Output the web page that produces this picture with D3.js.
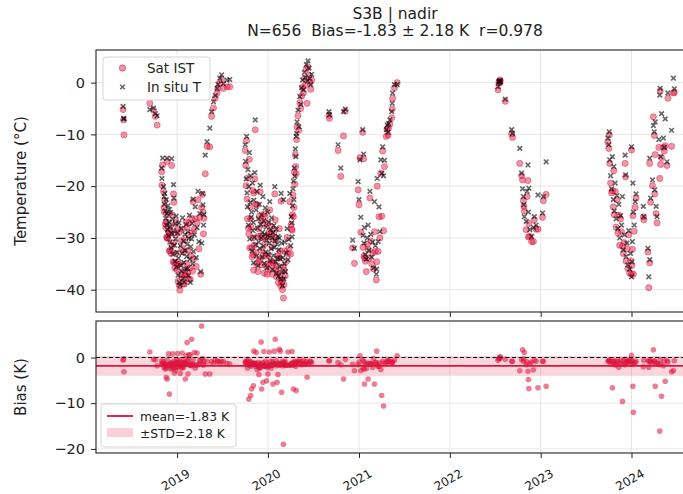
<!DOCTYPE html>
<html><head><meta charset="utf-8">
<script src="https://cdn.jsdelivr.net/npm/d3@7"></script>
<style>body{margin:0;background:#fff}svg{font-family:"DejaVu Sans",sans-serif}</style>
</head><body><svg id="c" width="683" height="494"></svg>
<script>
// ---------- labels / ticks ----------
const titleLines = ["S3B | nadir", "N=656  Bias=-1.83 \u00b1 2.18 K  r=0.978"];
const yearTicks = [2019, 2020, 2021, 2022, 2023, 2024];
const tempTicks = [0, -10, -20, -30, -40];
const biasTicks = [0, -10, -20];
const meanBias = -1.83, stdBias = 2.18;
const legendTop = ["Sat IST", "In situ T"];
const legendBottom = ["mean=-1.83 K", "\u00b1STD=2.18 K"];

// ---------- data: [decimal year, in situ T (°C), satellite IST (°C)] ----------
const spring2018 = [
[2018.405,-4.6,-5.2],[2018.410,-6.9,-7.2],[2018.415,-7.0,-10.1],
[2018.700,-5.2,-4.0],[2018.740,-4.9,-5.3],[2018.760,-6.0,-6.5],[2018.780,-6.4,-8.2]
];
const winter1 = [
[2018.830,-16.5,-17.2],[2018.833,-18.5,-19.8],[2018.840,-14.6,-15.9],[2018.850,-20.1,-21.0],
[2018.855,-22.0,-24.1],[2018.860,-23.5,-25.0],[2018.865,-21.4,-22.8],[2018.870,-24.8,-27.3],
[2018.875,-26.2,-28.0],[2018.880,-22.6,-26.9],[2018.885,-27.5,-29.8],[2018.890,-14.6,-15.2],
[2018.890,-25.3,-30.0],[2018.895,-28.4,-30.1],[2018.900,-23.8,-25.5],[2018.905,-29.6,-28.8],
[2018.910,-26.9,-28.7],[2018.915,-24.5,-32.5],[2018.920,-30.8,-32.4],[2018.925,-27.8,-29.1],
[2018.930,-25.1,-27.6],[2018.935,-31.9,-33.0],[2018.940,-14.7,-16.0],[2018.945,-29.2,-31.5],
[2018.950,-26.4,-25.6],[2018.955,-33.1,-34.6],[2018.960,-19.7,-21.5],[2018.962,-28.6,-30.9],
[2018.965,-22.3,-23.1],[2018.970,-31.4,-34.8],[2018.975,-34.5,-35.8],[2018.980,-27.3,-29.4],
[2018.985,-30.2,-33.0],[2018.990,-25.8,-26.9],[2018.995,-35.6,-36.1],[2019.000,-32.8,-34.9],
[2019.005,-29.0,-28.1],[2019.010,-37.2,-38.4],[2019.015,-33.9,-35.1],[2019.020,-27.1,-29.0],
[2019.025,-38.6,-39.2],[2019.030,-39.1,-40.1],[2019.035,-31.5,-35.0],[2019.040,-35.3,-37.0],
[2019.045,-28.2,-30.5],[2019.050,-36.4,-37.6],[2019.055,-33.0,-32.0],[2019.060,-26.1,-28.3],
[2019.065,-37.8,-38.9],[2019.070,-30.6,-32.7],[2019.075,-34.7,-36.3],[2019.080,-38.5,-38.9],
[2019.085,-29.3,-30.4],[2019.090,-32.4,-37.1],[2019.095,-36.0,-37.2],[2019.100,-27.4,-26.9],
[2019.105,-33.6,-35.0],[2019.110,-31.2,-27.9],[2019.115,-35.9,-36.6],[2019.120,-28.8,-32.4],
[2019.125,-37.3,-37.9],[2019.130,-30.1,-29.5],[2019.135,-25.6,-27.1],[2019.140,-34.1,-35.8],
[2019.145,-38.6,-38.0],[2019.150,-31.7,-33.4],[2019.160,-30.2,-26.2],[2019.165,-27.2,-29.0],
[2019.170,-35.0,-36.4],[2019.175,-22.5,-23.0],[2019.180,-32.6,-34.1],[2019.190,-29.4,-28.3],
[2019.200,-24.0,-26.3],[2019.210,-33.8,-35.5],[2019.220,-28.0,-27.0],[2019.230,-21.0,-22.6],
[2019.240,-30.7,-32.1],[2019.250,-25.3,-26.0],[2019.260,-36.5,-37.0],[2019.270,-31.0,-24.1],
[2019.280,-21.4,-21.6],[2019.285,-23.6,-25.0],[2019.290,-27.5,-29.2],[2019.295,-25.5,-26.2],
[2019.310,-14.0,-17.6],[2019.330,-11.4,-12.3],[2019.360,-8.8,-12.4],[2019.380,-5.6,-6.5],
[2019.400,-3.7,-4.9],[2019.420,-2.5,-3.0],[2019.440,-1.1,-2.0],[2019.450,-0.3,-1.1],
[2019.470,0.85,-0.2],[2019.490,1.5,0.6],[2019.510,-0.2,-1.1],[2019.550,0.5,-0.8],[2019.580,0.6,-0.8]
];
const winter2 = [
[2019.750,-12.0,-13.1],[2019.755,-15.2,-16.0],[2019.760,-18.6,-19.9],[2019.765,-10.4,-11.2],
[2019.770,-21.3,-22.5],[2019.775,-24.0,-26.3],[2019.780,-16.8,-18.4],[2019.785,-27.5,-28.1],
[2019.790,-20.1,-29.2],[2019.795,-13.5,-14.8],[2019.800,-30.2,-31.9],[2019.805,-23.1,-24.0],
[2019.810,-18.0,-26.3],[2019.815,-26.0,-27.9],[2019.820,-25.0,-31.9],[2019.825,-32.5,-33.6],
[2019.830,-19.4,-20.8],[2019.835,-28.6,-30.0],[2019.840,-27.0,-33.2],[2019.842,-34.8,-36.2],
[2019.845,-22.7,-21.3],[2019.850,-29.9,-31.4],[2019.855,-17.4,-18.6],[2019.860,-7.2,-9.1],
[2019.865,-31.3,-32.8],[2019.870,-24.6,-23.5],[2019.875,-33.5,-35.0],[2019.880,-21.0,-23.6],
[2019.885,-28.1,-29.7],[2019.890,-35.4,-36.5],[2019.895,-26.3,-28.2],[2019.900,-30.8,-34.5],
[2019.905,-23.5,-25.8],[2019.910,-32.0,-34.1],[2019.915,-19.8,-21.1],[2019.920,-27.4,-29.6],
[2019.925,-30.0,-26.6],[2019.930,-25.5,-32.4],[2019.935,-33.7,-35.2],[2019.940,-28.9,-30.0],
[2019.945,-22.0,-27.4],[2019.950,-31.6,-33.3],[2019.955,-26.7,-25.4],[2019.960,-34.9,-36.8],
[2019.965,-29.3,-31.2],[2019.970,-24.2,-25.9],[2019.975,-32.7,-33.5],[2019.980,-27.9,-29.8],
[2019.985,-30.4,-35.5],[2019.990,-35.8,-37.0],[2019.995,-25.0,-27.2],[2020.000,-29.6,-33.2],
[2020.005,-33.2,-35.0],[2020.010,-27.0,-28.9],[2020.015,-31.0,-29.8],[2020.020,-23.0,-24.6],
[2020.025,-34.4,-36.1],[2020.030,-28.4,-29.2],[2020.035,-32.1,-34.4],[2020.040,-26.1,-27.8],
[2020.045,-30.0,-31.7],[2020.050,-36.1,-37.0],[2020.055,-29.0,-34.8],[2020.060,-33.4,-34.9],
[2020.065,-27.6,-29.0],[2020.070,-31.8,-30.4],[2020.075,-20.1,-21.5],[2020.080,-30.5,-26.5],
[2020.085,-34.6,-36.0],[2020.090,-28.3,-30.1],[2020.095,-36.8,-37.5],[2020.100,-31.2,-36.6],
[2020.105,-33.9,-35.4],[2020.110,-29.7,-33.4],[2020.115,-37.4,-38.6],[2020.120,-32.3,-33.9],
[2020.125,-30.0,-28.2],[2020.130,-35.5,-37.2],[2020.135,-34.0,-32.6],[2020.140,-38.0,-39.3],
[2020.145,-21.4,-22.9],[2020.150,-31.0,-38.6],[2020.155,-36.6,-38.0],[2020.160,-39.2,-40.0],
[2020.165,-33.8,-35.6],[2020.170,-22.6,-41.6],[2020.175,-37.9,-39.0],[2020.180,-35.0,-36.2],
[2020.185,-30.8,-32.5],[2020.190,-36.5,-37.3],[2020.200,-32.9,-34.6],[2020.210,-28.2,-29.9],
[2020.220,-34.2,-33.0],[2020.230,-30.3,-32.0],[2020.240,-21.4,-23.0],[2020.250,-31.5,-33.1],
[2020.255,-25.9,-27.4],[2020.260,-27.1,-28.3],[2020.265,-29.8,-28.5],[2020.270,-23.8,-25.5],
[2020.275,-20.5,-21.7],[2020.280,-19.0,-25.9],[2020.285,-22.6,-24.1],[2020.290,-16.5,-17.3],
[2020.295,-18.1,-19.6],[2020.300,-12.8,-13.9],[2020.305,-14.3,-16.2],[2020.310,-10.4,-17.6],
[2020.315,-9.8,-11.0],[2020.320,-7.6,-8.5],[2020.330,-5.3,-6.4],[2020.340,-8.5,-9.2],
[2020.350,-2.7,-3.9],[2020.360,-4.2,-5.0],[2020.370,-1.0,-2.6],[2020.380,0.5,-0.9],
[2020.390,-1.4,-2.0],[2020.400,2.0,0.8],[2020.410,1.0,-0.5],[2020.420,3.5,2.6],
[2020.430,0.3,-4.0],[2020.440,4.2,3.0],[2020.450,2.8,1.4],[2020.460,0.8,0.0],
[2020.470,-0.4,-1.3],[2020.480,1.6,0.5]
];
const autumn2020 = [
[2020.670,-5.6,-6.3],[2020.675,-6.2,-6.9],[2020.770,-12.0,-13.1],[2020.800,-16.5,-18.1],
[2020.830,-5.6,-10.3],[2020.850,-5.1,-5.5]
];
const winter3 = [
[2020.930,-30.4,-31.9],[2020.950,-32.0,-34.9],[2020.990,-19.1,-20.7],[2021.000,-22.6,-23.6],
[2021.010,-14.9,-14.5],[2021.020,-26.0,-28.9],[2021.040,-9.1,-9.6],[2021.045,-29.5,-31.8],
[2021.050,-13.8,-14.7],[2021.055,-31.0,-33.5],[2021.060,-28.0,-33.8],[2021.070,-33.2,-34.5],
[2021.080,-34.1,-36.5],[2021.090,-30.0,-31.2],[2021.100,-27.5,-32.2],[2021.110,-32.4,-33.9],
[2021.120,-21.0,-22.3],[2021.130,-29.3,-30.6],[2021.140,-33.7,-35.0],[2021.150,-30.8,-32.9],
[2021.160,-35.8,-36.0],[2021.170,-23.0,-28.8],[2021.180,-31.5,-32.6],[2021.190,-37.0,-38.1],
[2021.195,-36.0,-34.6],[2021.200,-18.5,-20.0],[2021.210,-30.7,-32.6],[2021.220,-24.0,-25.9],
[2021.230,-28.8,-30.0],[2021.240,-14.9,-17.5],[2021.250,-17.5,-25.8],[2021.260,-12.4,-13.2],
[2021.270,-18.0,-28.6],[2021.280,-15.0,-16.2],[2021.300,-9.1,-10.4],[2021.310,-8.2,-9.0],
[2021.320,-9.6,-10.1],[2021.325,-7.9,-8.8],[2021.340,-7.2,-8.0],[2021.360,-5.6,-6.8],
[2021.365,-4.0,-5.1],[2021.370,-2.0,-3.0],[2021.390,-0.4,-1.0],[2021.420,-0.4,0.0]
];
const season2022 = [
[2022.530,-0.8,-1.4],[2022.540,0.2,0.0],[2022.545,0.3,0.1],[2022.550,0.1,-0.1],
[2022.552,0.4,0.5],[2022.555,0.2,0.3],[2022.610,-3.2,-3.6],[2022.680,-9.1,-9.9],
[2022.690,-9.8,-10.6],[2022.770,-12.7,-15.6],[2022.790,-17.5,-18.0],[2022.800,-20.5,-18.8],
[2022.810,-22.0,-22.8],[2022.815,-23.6,-23.9],[2022.820,-25.9,-24.8],[2022.840,-26.8,-28.4],
[2022.850,-21.0,-22.0],[2022.860,-15.9,-18.9],[2022.865,-25.0,-29.8],[2022.870,-20.4,-27.2],
[2022.880,-28.4,-29.7],[2022.900,-29.7,-30.7],[2022.920,-28.0,-30.7],[2022.930,-25.9,-26.5],
[2022.950,-27.5,-28.3],[2022.970,-21.7,-28.3],[2023.020,-25.2,-26.0],[2023.030,-22.0,-22.8],
[2023.060,-15.3,-21.6]
];
const winter2024 = [
[2023.740,-10.7,-11.5],[2023.750,-12.0,-12.7],[2023.755,-9.5,-10.1],[2023.760,-14.9,-15.6],
[2023.770,-18.0,-19.4],[2023.780,-20.5,-21.3],[2023.790,-14.3,-20.9],[2023.800,-22.6,-24.0],
[2023.805,-16.2,-17.0],[2023.810,-24.8,-25.5],[2023.820,-19.4,-21.0],[2023.830,-26.3,-27.9],
[2023.840,-21.8,-22.6],[2023.850,-28.2,-29.0],[2023.860,-23.5,-25.6],[2023.870,-30.0,-31.4],
[2023.880,-25.7,-26.3],[2023.890,-27.5,-28.8],[2023.900,-22.0,-31.6],[2023.910,-32.3,-33.0],
[2023.920,-29.4,-30.9],[2023.930,-14.0,-15.6],[2023.935,-17.8,-18.2],[2023.940,-33.6,-34.5],
[2023.950,-31.0,-32.1],[2023.960,-35.2,-35.9],[2023.970,-28.6,-29.4],[2023.980,-36.0,-36.8],
[2023.990,-33.0,-34.4],[2024.000,-37.5,-37.0],[2024.000,-12.4,-13.0],[2024.005,-34.6,-35.3],
[2024.010,-30.7,-32.2],[2024.015,-19.4,-25.7],[2024.020,-25.0,-37.0],[2024.030,-27.5,-28.7],
[2024.040,-23.0,-24.1],[2024.050,-21.5,-22.3],[2024.130,-23.9,-25.9],[2024.135,-25.9,-26.5],
[2024.180,-32.0,-32.7],[2024.190,-37.5,-39.6],[2024.200,-34.2,-34.8],[2024.200,-14.6,-15.6],
[2024.210,-22.3,-23.1],[2024.230,-18.8,-19.9],[2024.240,-8.3,-6.6],[2024.250,-9.5,-10.2],
[2024.255,-20.7,-21.5],[2024.260,-7.6,-13.9],[2024.270,-23.9,-25.3],[2024.280,-25.9,-27.1],
[2024.300,-11.0,-12.5],[2024.310,-2.4,-18.5],[2024.320,-14.3,-15.8],[2024.330,-6.0,-14.5],
[2024.350,-10.7,-12.5],[2024.360,-12.5,-13.2],[2024.370,-7.0,-12.2],[2024.390,-15.3,-16.0],
[2024.315,-1.1,-1.6],[2024.400,-2.0,-3.0],[2024.440,-9.2,-12.3],[2024.460,0.85,-2.0],
[2024.470,-1.2,-1.9]
];

// ---------- build ----------
const rows = [].concat(spring2018, winter1, winter2, autumn2020, winter3, season2022, winter2024);
function toDate(y){const yr=Math.floor(y);const a=Date.UTC(yr,0,1),b=Date.UTC(yr+1,0,1);return new Date(a+(y-yr)*(b-a));}
const pts = rows.map(r => ({t: toDate(r[0]), ins: r[1], sat: r[2], bias: r[2]-r[1]}));

const svg = d3.select("#c");
const L = 96, R = 698, T1 = 50, B1 = 312, T2 = 321, B2 = 453;
const x = d3.scaleUtc().domain([toDate(2018.107), toDate(2024.73)]).range([L, R]);
const y1 = d3.scaleLinear().domain([-44.3, 6.3]).range([B1, T1]);
const y2 = d3.scaleLinear().domain([-20.9, 8.0]).range([B2, T2]);
const yearDates = yearTicks.map(yv => new Date(Date.UTC(yv,0,1)));
const gridC = "#e4e4e4", crim = "#dc143c";

const defs = svg.append("defs");
defs.append("clipPath").attr("id","cp1").append("rect").attr("x",L).attr("y",T1).attr("width",R-L).attr("height",B1-T1);
defs.append("clipPath").attr("id","cp2").append("rect").attr("x",L).attr("y",T2).attr("width",R-L).attr("height",B2-T2);

function grid(yS, ticks, top, bot){
  const g = svg.append("g");
  g.selectAll(".gx").data(yearDates).join("line").attr("x1",d=>x(d)).attr("x2",d=>x(d)).attr("y1",top).attr("y2",bot).attr("stroke",gridC).attr("stroke-width",0.9);
  g.selectAll(".gy").data(ticks).join("line").attr("x1",L).attr("x2",R).attr("y1",d=>yS(d)).attr("y2",d=>yS(d)).attr("stroke",gridC).attr("stroke-width",0.9);
}
grid(y1, tempTicks, T1, B1);
grid(y2, biasTicks, T2, B2);

// ---- top panel marks
const g1 = svg.append("g").attr("clip-path","url(#cp1)");
g1.selectAll("circle").data(pts).join("circle")
  .attr("cx",d=>x(d.t)).attr("cy",d=>y1(d.sat)).attr("r",3.1)
  .attr("fill",crim).attr("fill-opacity",0.45).attr("stroke",crim).attr("stroke-opacity",0.5).attr("stroke-width",0.8);
const xm = "M-2.3,-2.3L2.3,2.3M-2.3,2.3L2.3,-2.3";
g1.selectAll("path").data(pts).join("path")
  .attr("d",xm).attr("transform",d=>`translate(${x(d.t)},${y1(d.ins)})`)
  .attr("stroke","#000").attr("stroke-opacity",0.6).attr("stroke-width",1.6).attr("fill","none");

// ---- bottom panel marks
const g2 = svg.append("g").attr("clip-path","url(#cp2)");
g2.append("rect").attr("x",L).attr("width",R-L).attr("y",y2(meanBias+stdBias)).attr("height",y2(meanBias-stdBias)-y2(meanBias+stdBias))
  .attr("fill",crim).attr("fill-opacity",0.18);
g2.selectAll("circle").data(pts).join("circle")
  .attr("cx",d=>x(d.t)).attr("cy",d=>y2(d.bias)).attr("r",2.8)
  .attr("fill",crim).attr("fill-opacity",0.55);
g2.append("line").attr("x1",L).attr("x2",R).attr("y1",y2(meanBias)).attr("y2",y2(meanBias)).attr("stroke",crim).attr("stroke-width",1.8);
g2.append("line").attr("x1",L).attr("x2",R).attr("y1",y2(0)).attr("y2",y2(0)).attr("stroke","#000").attr("stroke-width",1.1).attr("stroke-dasharray","4,2.5");

// ---- axes
function styleAxis(g){g.select(".domain").remove();g.selectAll(".tick line").attr("stroke","#222").attr("stroke-width",1);g.selectAll(".tick text").attr("fill","#222").attr("font-family","DejaVu Sans");}
const fmtT = d => d===0 ? "0" : "\u2212"+Math.abs(d);
svg.append("g").attr("transform",`translate(${L},0)`).call(d3.axisLeft(y1).tickValues(tempTicks).tickFormat(fmtT).tickSize(5).tickPadding(6)).call(styleAxis).selectAll("text").attr("font-size",14.5);
svg.append("g").attr("transform",`translate(${L},0)`).call(d3.axisLeft(y2).tickValues(biasTicks).tickFormat(fmtT).tickSize(5).tickPadding(6)).call(styleAxis).selectAll("text").attr("font-size",14.5);
svg.append("g").attr("transform",`translate(0,${B1})`).call(d3.axisBottom(x).tickValues(yearDates).tickFormat("").tickSize(5)).call(styleAxis);
const xb = svg.append("g").attr("transform",`translate(0,${B2})`).call(d3.axisBottom(x).tickValues(yearDates).tickFormat(d=>d.getUTCFullYear()).tickSize(5)).call(styleAxis);
xb.selectAll(".tick text").attr("font-size",12).attr("text-anchor","middle").attr("dy",null).attr("y",null)
  .attr("dominant-baseline","central").attr("transform","translate(-2,27) rotate(-30)");

// frames
[[T1,B1],[T2,B2]].forEach(([t,b]) => svg.append("rect").attr("x",L).attr("y",t).attr("width",R-L).attr("height",b-t).attr("fill","none").attr("stroke","#222").attr("stroke-width",1.1));

// labels
svg.append("text").attr("transform",`translate(26,${(T1+B1)/2}) rotate(-90)`).attr("text-anchor","middle").attr("font-size",15).attr("fill","#222").text("Temperature (\u00b0C)");
svg.append("text").attr("transform",`translate(26,${(T2+B2)/2}) rotate(-90)`).attr("text-anchor","middle").attr("font-size",15).attr("fill","#222").text("Bias (K)");
svg.selectAll(".title").data(titleLines).join("text").attr("x",395).attr("y",(d,i)=>19+i*17).attr("text-anchor","middle").attr("font-size",15.5).attr("fill","#222").style("white-space","pre").text(d=>d);

// legend top
const lg1 = svg.append("g");
lg1.append("rect").attr("x",103).attr("y",57).attr("width",107).attr("height",43).attr("rx",3).attr("fill","#fff").attr("fill-opacity",0.85).attr("stroke","#d5d5d5");
lg1.append("circle").attr("cx",122.5).attr("cy",68).attr("r",3.2).attr("fill",crim).attr("fill-opacity",0.45).attr("stroke",crim).attr("stroke-opacity",0.5);
lg1.append("path").attr("d",xm).attr("transform","translate(122.5,87)").attr("stroke","#000").attr("stroke-opacity",0.6).attr("stroke-width",1.5);
lg1.selectAll("text").data(legendTop).join("text").attr("x",147).attr("y",(d,i)=>73+i*19).attr("font-size",13.5).attr("fill","#222").text(d=>d);

// legend bottom
const lg2 = svg.append("g");
lg2.append("rect").attr("x",101).attr("y",404).attr("width",135).attr("height",43).attr("rx",3).attr("fill","#fff").attr("fill-opacity",0.85).attr("stroke","#d5d5d5");
lg2.append("line").attr("x1",107).attr("x2",133).attr("y1",416).attr("y2",416).attr("stroke",crim).attr("stroke-width",1.8);
lg2.append("rect").attr("x",107).attr("y",428).attr("width",26).attr("height",9).attr("fill",crim).attr("fill-opacity",0.2);
lg2.selectAll("text").data(legendBottom).join("text").attr("x",140).attr("y",(d,i)=>420.5+i*17).attr("font-size",12.3).attr("fill","#222").text(d=>d);
</script></body></html>
